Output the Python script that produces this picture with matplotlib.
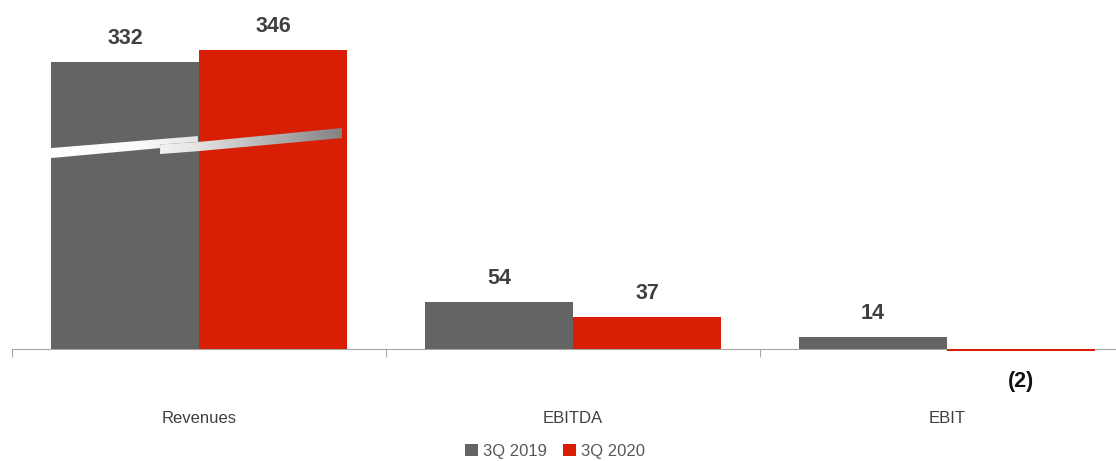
import numpy as np
import matplotlib
matplotlib.use("Agg")
import matplotlib.pyplot as plt
from matplotlib.patches import Polygon
from matplotlib.colors import LinearSegmentedColormap

# Données
categories = ["Revenues", "EBITDA", "EBIT"]
series_names = ["3Q 2019", "3Q 2020"]
q3_2019 = [332, 54, 14]
q3_2020 = [346, 37, -2]
labels_2019 = ["332", "54", "14"]
labels_2020 = ["346", "37", "(2)"]

gris = "#646464"
rouge = "#d81e05"
texte = "#404040"

plt.rcParams["font.family"] = ["Liberation Sans", "DejaVu Sans"]

fig = plt.figure(figsize=(11.16, 4.61), dpi=100)
# axe qui déborde volontairement à droite, comme dans l'original
ax = fig.add_axes([12 / 1116, 0, 1122 / 1116, 1])
ax.set_xlim(-0.5, 2.5)
ax.set_ylim(-129.6, 404)

x = np.arange(len(categories))
w = 0.396
b1 = ax.bar(x - w / 2, q3_2019, w, color=gris, label=series_names[0], zorder=2)
b2 = ax.bar(x + w / 2, q3_2020, w, color=rouge, label=series_names[1], zorder=2)

# Étiquettes de valeurs
for i in range(len(categories)):
    for xi, v, lab in [(x[i] - w / 2, q3_2019[i], labels_2019[i]),
                       (x[i] + w / 2, q3_2020[i], labels_2020[i])]:
        dy = 17 if v >= 0 else -22
        ax.annotate(lab, (xi, v), xytext=(0, dy),
                    textcoords="offset points", ha="center", va="center",
                    fontsize=15.5, fontweight="bold",
                    color=texte if v >= 0 else "#111111")

# Noms de catégories
for i, c in enumerate(categories):
    ax.annotate(c, (x[i], 0), xytext=(0, -50), textcoords="offset points",
                ha="center", va="center", fontsize=12, color=texte)

# Bande de rupture décorative sur les revenus
x0 = -w
x1 = w * 0.965
xa = -0.104
xb = -0.003
strip1 = [(x0, 221), (x0, 232.6), (xb, 246.5), (xb, 239.6),
          (xa, 236.8), (xa, 232.6)]
strip2 = [(xa, 225.7), (xa, 236.8), (xb, 239.6), (x1, 255.8), (x1, 244.2),
          (xb, 229.0)]
cmap = LinearSegmentedColormap.from_list(
    "rupture", [(0, "#ffffff"), (0.3, "#fbfbfb"), (0.5, "#e4e4e4"), (1, "#828282")])
grad = np.linspace(0, 1, 256).reshape(1, -1)
for pts in (strip1, strip2):
    poly = Polygon(pts, closed=True, facecolor="none", edgecolor="none")
    ax.add_patch(poly)
    im = ax.imshow(grad, cmap=cmap, extent=(x0, x1, 215, 262), aspect="auto",
                   zorder=3, interpolation="bilinear")
    im.set_clip_path(poly)
ax.set_xlim(-0.5, 2.5)
ax.set_ylim(-129.6, 404)

# Axe
for s in ["top", "right", "left"]:
    ax.spines[s].set_visible(False)
ax.spines["bottom"].set_position(("data", 0))
ax.spines["bottom"].set_color("#a6a6a6")
ax.spines["bottom"].set_zorder(1)
ax.set_yticks([])
ax.set_xticks([-0.5, 0.5, 1.5, 2.5])
ax.set_xticklabels([])
ax.tick_params(axis="x", length=6, color="#a6a6a6", direction="out")

leg = fig.legend(handles=[b1, b2], loc="center", bbox_to_anchor=(555 / 1116, 1 - 451 / 461),
                 ncol=2, frameon=False, fontsize=12, handlelength=0.75, handleheight=0.75,
                 handletextpad=0.3, columnspacing=1.0)
for t in leg.get_texts():
    t.set_color("#595959")

fig.savefig("out.png", dpi=100)
